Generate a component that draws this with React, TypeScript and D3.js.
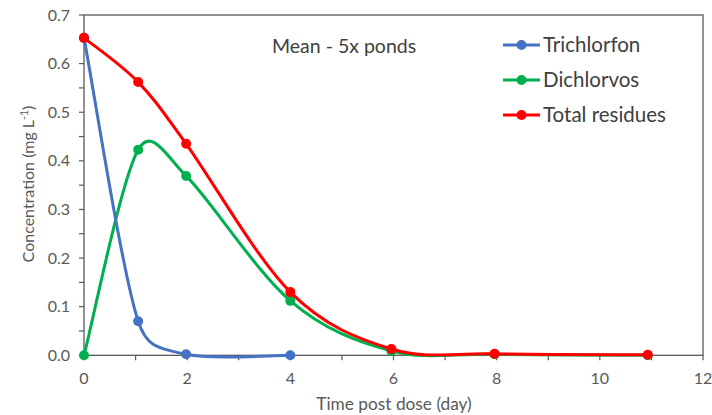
import React from "react";
import * as d3 from "d3";

const trichlorfonDays = [0, 1.05, 1.98, 4];
const trichlorfon = [0.653, 0.07, 0.002, 0.0];
const dichlorvosDays = [0, 1.05, 1.98, 4, 5.96, 7.96, 10.93];
const dichlorvos = [0.0, 0.423, 0.369, 0.112, 0.009, 0.002, 0.0];
const totalDays = [0, 1.05, 1.98, 4, 5.96, 7.96, 10.93];
const total = [0.653, 0.562, 0.435, 0.13, 0.013, 0.003, 0.001];

const xTicks = [0, 2, 4, 6, 8, 10, 12];
const yTicks = [0, 0.1, 0.2, 0.3, 0.4, 0.5, 0.6, 0.7];

const seriesNames = ["Trichlorfon", "Dichlorvos", "Total residues"];
const seriesColors = ["#4472C4", "#00B050", "#FF0000"];

const FONT = "Lato, 'Open Sans', sans-serif";

type Pt = [number, number];

// Excel-style smoothed line: Bezier segments with tangent (P2-P0)/6, arm limited to half segment length
function excelSmooth(pts: Pt[]): string {
  const p = d3.path();
  if (pts.length === 0) return "";
  p.moveTo(pts[0][0], pts[0][1]);
  const dist = (a: Pt, b: Pt) => Math.hypot(b[0] - a[0], b[1] - a[1]);
  for (let i = 0; i < pts.length - 1; i++) {
    const P0 = pts[Math.max(0, i - 1)];
    const P1 = pts[i];
    const P2 = pts[i + 1];
    const P3 = pts[Math.min(pts.length - 1, i + 2)];
    const d02 = dist(P0, P2);
    const d12 = dist(P1, P2);
    const d13 = dist(P1, P3);
    const f = 1 / 6;
    let f0 = f;
    let f1 = f;
    if (d02 / 6 >= d12 / 2 && d02 > 0) f0 = d12 / d02 / 2;
    if (d13 / 6 >= d12 / 2 && d13 > 0) f1 = d12 / d13 / 2;
    const c1: Pt = [P1[0] + (P2[0] - P0[0]) * f0, P1[1] + (P2[1] - P0[1]) * f0];
    const c2: Pt = [P2[0] - (P3[0] - P1[0]) * f1, P2[1] - (P3[1] - P1[1]) * f1];
    p.bezierCurveTo(c1[0], c1[1], c2[0], c2[1], P2[0], P2[1]);
  }
  return p.toString();
}

export default function App() {
  const W = 712, H = 415;
  const x = d3.scaleLinear().domain([0, 12]).range([84, 703]);
  const y = d3.scaleLinear().domain([0, 0.7]).range([355.3, 15]);

  const series = [
    { days: trichlorfonDays, vals: trichlorfon },
    { days: dichlorvosDays, vals: dichlorvos },
    { days: totalDays, vals: total },
  ];
  const drawOrder = [1, 0, 2];
  const axisColor = "#595959";
  const textColor = "#595959";
  const minorY = d3.range(0, 0.7001, 0.05);
  const minorX = d3.range(0, 12.001, 1);

  return (
    <svg width={W} height={H} style={{ position: "absolute", left: 0, top: 0, background: "#fff" }}>
      <rect x={0} y={0} width={W} height={H} fill="#fff" />
      <rect x={x(0)} y={y(0.7)} width={x(12) - x(0)} height={y(0) - y(0.7)} fill="none" stroke={axisColor} strokeWidth={1.3} />
      {minorY.map((t, i) => (
        <line key={"yt" + i} x1={x(0) - 5} x2={x(0)} y1={y(t)} y2={y(t)} stroke={axisColor} strokeWidth={1.2} />
      ))}
      {yTicks.map((t) => (
        <text key={"yl" + t} x={70} y={y(t)} dy="0.35em" textAnchor="end" fontSize={16} fill={textColor} fontFamily={FONT}>
          {t.toFixed(1)}
        </text>
      ))}
      {minorX.map((t) => (
        <line key={"xt" + t} x1={x(t)} x2={x(t)} y1={y(0)} y2={y(0) + 5} stroke={axisColor} strokeWidth={1.2} />
      ))}
      {xTicks.map((t) => (
        <text key={"xl" + t} x={x(t)} y={378} dy="0.35em" textAnchor="middle" fontSize={16} fill={textColor} fontFamily={FONT}>
          {t}
        </text>
      ))}
      <text x={394} y={404} dy="0.35em" textAnchor="middle" fontSize={17.3} fill={textColor} fontFamily={FONT}>
        Time post dose (day)
      </text>
      <text transform={`translate(28,184) rotate(-90)`} textAnchor="middle" dy="0.35em" fontSize={16} fill={textColor} fontFamily={FONT}>
        Concentration (mg L<tspan dy="-6" fontSize={10.5}>-1</tspan><tspan dy="6">)</tspan>
      </text>
      {drawOrder.map((si) => {
        const s = series[si];
        const pts: Pt[] = s.days.map((d, i) => [x(d), y(s.vals[i])]);
        return (
          <g key={"s" + si}>
            <path d={excelSmooth(pts)} fill="none" stroke={seriesColors[si]} strokeWidth={3} strokeLinejoin="round" />
            {pts.map((p, i) => (
              <circle key={i} cx={p[0]} cy={p[1]} r={5} fill={seriesColors[si]} />
            ))}
          </g>
        );
      })}
      <text x={272} y={46} dy="0.35em" fontSize={19.5} fill="#404040" fontFamily={FONT}>
        Mean - 5x ponds
      </text>
      {seriesNames.map((n, i) => {
        const ly = 45 + i * 35;
        return (
          <g key={n}>
            <line x1={503} x2={540} y1={ly} y2={ly} stroke={seriesColors[i]} strokeWidth={3} />
            <circle cx={521.5} cy={ly} r={5} fill={seriesColors[i]} />
            <text x={543} y={ly} dy="0.35em" fontSize={20.5} fill="#404040" fontFamily={FONT}>
              {n}
            </text>
          </g>
        );
      })}
    </svg>
  );
}
